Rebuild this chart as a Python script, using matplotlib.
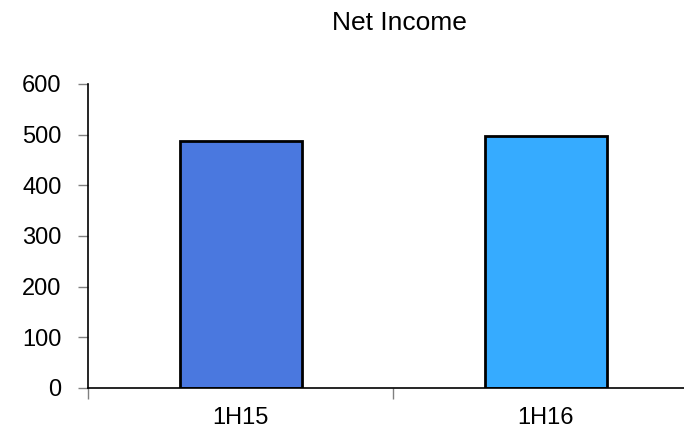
import matplotlib
matplotlib.use('Agg')
import matplotlib.pyplot as plt

# chart data
categories = ['1H15', '1H16']
net_income = [487, 497]
bar_colors = ['#4a78df', '#36abff']
y_ticks = [0, 100, 200, 300, 400, 500, 600]

plt.rcParams['font.family'] = ['Liberation Sans', 'DejaVu Sans']

fig = plt.figure(figsize=(6.84, 4.33), dpi=100)
# axes runs past the right edge of the figure, as in the original
ax = fig.add_axes([88 / 684, 45 / 433, 610 / 684, 304 / 433])

x = list(range(len(categories)))
ax.bar(x, net_income, width=0.4, color=bar_colors, edgecolor='black', linewidth=2)

ax.set_xlim(-0.5, len(categories) - 0.5)
ax.set_ylim(0, 600)
ax.set_yticks(y_ticks)
ax.set_yticklabels([str(v) for v in y_ticks], fontsize=17)

# category labels centered under bars, ticks at category boundaries
ax.set_xticks([i - 0.5 for i in range(len(categories) + 1)])
ax.set_xticklabels([])
ax.set_xticks(x, minor=True)
ax.set_xticklabels(categories, minor=True, fontsize=17)
ax.tick_params(axis='x', which='minor', length=0, pad=14)
ax.tick_params(axis='x', which='major', length=8, color='#808080', width=1)
ax.tick_params(axis='y', length=7, color='#808080', width=1, pad=12)

for side in ['top', 'right']:
    ax.spines[side].set_visible(False)
for side in ['left', 'bottom']:
    ax.spines[side].set_linewidth(1.2)

fig.text(399 / 684, 1 - 23 / 433, 'Net Income', ha='center', va='center', fontsize=19)

plt.savefig('out.png', dpi=100)
